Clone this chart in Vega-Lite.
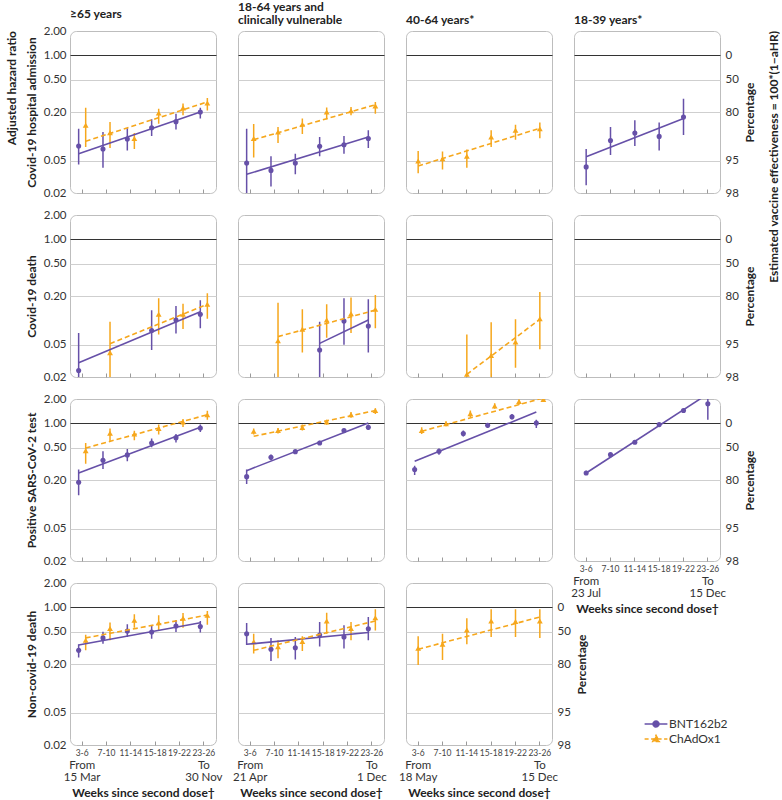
{
"$schema": "https://vega.github.io/schema/vega-lite/v6.json",
"padding": {"left": 5, "top": 0, "right": 0, "bottom": 0},
"config": {
  "font": "Lato",
  "view": {"stroke": "#bdbdbd", "cornerRadius": 6, "strokeWidth": 1},
  "axis": {"labelFont": "Lato", "titleFont": "Lato", "labelColor": "#333333", "titleColor": "#222222"},
  "title": {"font": "Lato", "fontSize": 12, "fontWeight": "bold", "color": "#222222"},
  "legend": {"labelFont": "Lato"}
},
"datasets": {
"pts": [
{"outcome":"admission","group":"65+","vaccine":"BNT162b2","weeks":"3-6","hr":0.076,"lo":0.045,"hi":0.124},
{"outcome":"admission","group":"65+","vaccine":"BNT162b2","weeks":"7-10","hr":0.070,"lo":0.041,"hi":0.113},
{"outcome":"admission","group":"65+","vaccine":"BNT162b2","weeks":"11-14","hr":0.093,"lo":0.067,"hi":0.126},
{"outcome":"admission","group":"65+","vaccine":"BNT162b2","weeks":"15-18","hr":0.128,"lo":0.101,"hi":0.163},
{"outcome":"admission","group":"65+","vaccine":"BNT162b2","weeks":"19-22","hr":0.152,"lo":0.122,"hi":0.19},
{"outcome":"admission","group":"65+","vaccine":"BNT162b2","weeks":"23-26","hr":0.20,"lo":0.166,"hi":0.225},
{"outcome":"admission","group":"65+","vaccine":"ChAdOx1","weeks":"3-6","hr":0.137,"lo":0.074,"hi":0.225},
{"outcome":"admission","group":"65+","vaccine":"ChAdOx1","weeks":"7-10","hr":0.111,"lo":0.072,"hi":0.15},
{"outcome":"admission","group":"65+","vaccine":"ChAdOx1","weeks":"11-14","hr":0.094,"lo":0.070,"hi":0.110},
{"outcome":"admission","group":"65+","vaccine":"ChAdOx1","weeks":"15-18","hr":0.194,"lo":0.143,"hi":0.22},
{"outcome":"admission","group":"65+","vaccine":"ChAdOx1","weeks":"19-22","hr":0.225,"lo":0.182,"hi":0.254},
{"outcome":"admission","group":"65+","vaccine":"ChAdOx1","weeks":"23-26","hr":0.258,"lo":0.208,"hi":0.298},
{"outcome":"admission","group":"18-64CV","vaccine":"BNT162b2","weeks":"3-6","hr":0.047,"lo":0.015,"hi":0.124},
{"outcome":"admission","group":"18-64CV","vaccine":"BNT162b2","weeks":"7-10","hr":0.038,"lo":0.024,"hi":0.057},
{"outcome":"admission","group":"18-64CV","vaccine":"BNT162b2","weeks":"11-14","hr":0.047,"lo":0.034,"hi":0.061},
{"outcome":"admission","group":"18-64CV","vaccine":"BNT162b2","weeks":"15-18","hr":0.0755,"lo":0.057,"hi":0.098},
{"outcome":"admission","group":"18-64CV","vaccine":"BNT162b2","weeks":"19-22","hr":0.079,"lo":0.061,"hi":0.101},
{"outcome":"admission","group":"18-64CV","vaccine":"BNT162b2","weeks":"23-26","hr":0.094,"lo":0.072,"hi":0.119},
{"outcome":"admission","group":"18-64CV","vaccine":"ChAdOx1","weeks":"3-6","hr":0.094,"lo":0.055,"hi":0.142},
{"outcome":"admission","group":"18-64CV","vaccine":"ChAdOx1","weeks":"7-10","hr":0.113,"lo":0.083,"hi":0.131},
{"outcome":"admission","group":"18-64CV","vaccine":"ChAdOx1","weeks":"11-14","hr":0.141,"lo":0.107,"hi":0.166},
{"outcome":"admission","group":"18-64CV","vaccine":"ChAdOx1","weeks":"15-18","hr":0.20,"lo":0.163,"hi":0.227},
{"outcome":"admission","group":"18-64CV","vaccine":"ChAdOx1","weeks":"19-22","hr":0.207,"lo":0.182,"hi":0.23},
{"outcome":"admission","group":"18-64CV","vaccine":"ChAdOx1","weeks":"23-26","hr":0.238,"lo":0.19,"hi":0.266},
{"outcome":"admission","group":"40-64","vaccine":"ChAdOx1","weeks":"3-6","hr":0.0497,"lo":0.035,"hi":0.066},
{"outcome":"admission","group":"40-64","vaccine":"ChAdOx1","weeks":"7-10","hr":0.053,"lo":0.039,"hi":0.065},
{"outcome":"admission","group":"40-64","vaccine":"ChAdOx1","weeks":"11-14","hr":0.057,"lo":0.041,"hi":0.069},
{"outcome":"admission","group":"40-64","vaccine":"ChAdOx1","weeks":"15-18","hr":0.098,"lo":0.074,"hi":0.119},
{"outcome":"admission","group":"40-64","vaccine":"ChAdOx1","weeks":"19-22","hr":0.119,"lo":0.091,"hi":0.139},
{"outcome":"admission","group":"40-64","vaccine":"ChAdOx1","weeks":"23-26","hr":0.124,"lo":0.095,"hi":0.148},
{"outcome":"admission","group":"18-39","vaccine":"BNT162b2","weeks":"3-6","hr":0.042,"lo":0.025,"hi":0.070},
{"outcome":"admission","group":"18-39","vaccine":"BNT162b2","weeks":"7-10","hr":0.089,"lo":0.059,"hi":0.131},
{"outcome":"admission","group":"18-39","vaccine":"BNT162b2","weeks":"11-14","hr":0.110,"lo":0.076,"hi":0.158},
{"outcome":"admission","group":"18-39","vaccine":"BNT162b2","weeks":"15-18","hr":0.100,"lo":0.067,"hi":0.148},
{"outcome":"admission","group":"18-39","vaccine":"BNT162b2","weeks":"19-22","hr":0.173,"lo":0.104,"hi":0.292},
{"outcome":"death","group":"65+","vaccine":"BNT162b2","weeks":"3-6","hr":0.024,"lo":0.012,"hi":0.070},
{"outcome":"death","group":"65+","vaccine":"BNT162b2","weeks":"15-18","hr":0.075,"lo":0.043,"hi":0.133},
{"outcome":"death","group":"65+","vaccine":"BNT162b2","weeks":"19-22","hr":0.101,"lo":0.069,"hi":0.151},
{"outcome":"death","group":"65+","vaccine":"BNT162b2","weeks":"23-26","hr":0.119,"lo":0.080,"hi":0.177},
{"outcome":"death","group":"65+","vaccine":"ChAdOx1","weeks":"7-10","hr":0.040,"lo":0.015,"hi":0.096},
{"outcome":"death","group":"65+","vaccine":"ChAdOx1","weeks":"15-18","hr":0.119,"lo":0.067,"hi":0.188},
{"outcome":"death","group":"65+","vaccine":"ChAdOx1","weeks":"19-22","hr":0.119,"lo":0.078,"hi":0.161},
{"outcome":"death","group":"65+","vaccine":"ChAdOx1","weeks":"23-26","hr":0.158,"lo":0.105,"hi":0.216},
{"outcome":"death","group":"18-64CV","vaccine":"BNT162b2","weeks":"15-18","hr":0.043,"lo":0.012,"hi":0.096},
{"outcome":"death","group":"18-64CV","vaccine":"BNT162b2","weeks":"19-22","hr":0.098,"lo":0.050,"hi":0.188},
{"outcome":"death","group":"18-64CV","vaccine":"BNT162b2","weeks":"23-26","hr":0.085,"lo":0.040,"hi":0.182},
{"outcome":"death","group":"18-64CV","vaccine":"ChAdOx1","weeks":"7-10","hr":0.056,"lo":0.015,"hi":0.165},
{"outcome":"death","group":"18-64CV","vaccine":"ChAdOx1","weeks":"11-14","hr":0.078,"lo":0.040,"hi":0.137},
{"outcome":"death","group":"18-64CV","vaccine":"ChAdOx1","weeks":"15-18","hr":0.101,"lo":0.061,"hi":0.158},
{"outcome":"death","group":"18-64CV","vaccine":"ChAdOx1","weeks":"19-22","hr":0.121,"lo":0.070,"hi":0.191},
{"outcome":"death","group":"18-64CV","vaccine":"ChAdOx1","weeks":"23-26","hr":0.137,"lo":0.080,"hi":0.206},
{"outcome":"death","group":"40-64","vaccine":"ChAdOx1","weeks":"11-14","hr":0.0216,"lo":0.01,"hi":0.067},
{"outcome":"death","group":"40-64","vaccine":"ChAdOx1","weeks":"15-18","hr":0.037,"lo":0.012,"hi":0.095},
{"outcome":"death","group":"40-64","vaccine":"ChAdOx1","weeks":"19-22","hr":0.054,"lo":0.026,"hi":0.103},
{"outcome":"death","group":"40-64","vaccine":"ChAdOx1","weeks":"23-26","hr":0.105,"lo":0.044,"hi":0.224},
{"outcome":"test","group":"65+","vaccine":"BNT162b2","weeks":"3-6","hr":0.188,"lo":0.130,"hi":0.269},
{"outcome":"test","group":"65+","vaccine":"BNT162b2","weeks":"7-10","hr":0.35,"lo":0.274,"hi":0.452},
{"outcome":"test","group":"65+","vaccine":"BNT162b2","weeks":"11-14","hr":0.408,"lo":0.34,"hi":0.483},
{"outcome":"test","group":"65+","vaccine":"BNT162b2","weeks":"15-18","hr":0.573,"lo":0.507,"hi":0.649},
{"outcome":"test","group":"65+","vaccine":"BNT162b2","weeks":"19-22","hr":0.667,"lo":0.58,"hi":0.74},
{"outcome":"test","group":"65+","vaccine":"BNT162b2","weeks":"23-26","hr":0.877,"lo":0.78,"hi":0.97},
{"outcome":"test","group":"65+","vaccine":"ChAdOx1","weeks":"3-6","hr":0.461,"lo":0.318,"hi":0.573},
{"outcome":"test","group":"65+","vaccine":"ChAdOx1","weeks":"7-10","hr":0.755,"lo":0.59,"hi":0.864},
{"outcome":"test","group":"65+","vaccine":"ChAdOx1","weeks":"11-14","hr":0.74,"lo":0.62,"hi":0.81},
{"outcome":"test","group":"65+","vaccine":"ChAdOx1","weeks":"15-18","hr":0.864,"lo":0.73,"hi":0.97},
{"outcome":"test","group":"65+","vaccine":"ChAdOx1","weeks":"19-22","hr":1.04,"lo":0.90,"hi":1.13},
{"outcome":"test","group":"65+","vaccine":"ChAdOx1","weeks":"23-26","hr":1.28,"lo":1.11,"hi":1.43},
{"outcome":"test","group":"18-64CV","vaccine":"BNT162b2","weeks":"3-6","hr":0.22,"lo":0.179,"hi":0.269},
{"outcome":"test","group":"18-64CV","vaccine":"BNT162b2","weeks":"7-10","hr":0.381,"lo":0.35,"hi":0.413},
{"outcome":"test","group":"18-64CV","vaccine":"BNT162b2","weeks":"11-14","hr":0.448,"lo":0.42,"hi":0.47},
{"outcome":"test","group":"18-64CV","vaccine":"BNT162b2","weeks":"15-18","hr":0.573,"lo":0.54,"hi":0.61},
{"outcome":"test","group":"18-64CV","vaccine":"BNT162b2","weeks":"19-22","hr":0.815,"lo":0.77,"hi":0.86},
{"outcome":"test","group":"18-64CV","vaccine":"BNT162b2","weeks":"23-26","hr":0.893,"lo":0.83,"hi":0.97},
{"outcome":"test","group":"18-64CV","vaccine":"ChAdOx1","weeks":"3-6","hr":0.80,"lo":0.73,"hi":0.864},
{"outcome":"test","group":"18-64CV","vaccine":"ChAdOx1","weeks":"7-10","hr":0.815,"lo":0.75,"hi":0.88},
{"outcome":"test","group":"18-64CV","vaccine":"ChAdOx1","weeks":"11-14","hr":0.893,"lo":0.815,"hi":0.97},
{"outcome":"test","group":"18-64CV","vaccine":"ChAdOx1","weeks":"15-18","hr":1.04,"lo":0.96,"hi":1.11},
{"outcome":"test","group":"18-64CV","vaccine":"ChAdOx1","weeks":"19-22","hr":1.28,"lo":1.17,"hi":1.38},
{"outcome":"test","group":"18-64CV","vaccine":"ChAdOx1","weeks":"23-26","hr":1.44,"lo":1.31,"hi":1.54},
{"outcome":"test","group":"40-64","vaccine":"BNT162b2","weeks":"3-6","hr":0.269,"lo":0.23,"hi":0.30},
{"outcome":"test","group":"40-64","vaccine":"BNT162b2","weeks":"7-10","hr":0.452,"lo":0.41,"hi":0.49},
{"outcome":"test","group":"40-64","vaccine":"BNT162b2","weeks":"11-14","hr":0.748,"lo":0.69,"hi":0.815},
{"outcome":"test","group":"40-64","vaccine":"BNT162b2","weeks":"15-18","hr":0.947,"lo":0.877,"hi":1.01},
{"outcome":"test","group":"40-64","vaccine":"BNT162b2","weeks":"19-22","hr":1.21,"lo":1.12,"hi":1.31},
{"outcome":"test","group":"40-64","vaccine":"BNT162b2","weeks":"23-26","hr":1.01,"lo":0.877,"hi":1.11},
{"outcome":"test","group":"40-64","vaccine":"ChAdOx1","weeks":"3-6","hr":0.815,"lo":0.74,"hi":0.893},
{"outcome":"test","group":"40-64","vaccine":"ChAdOx1","weeks":"7-10","hr":0.99,"lo":0.92,"hi":1.06},
{"outcome":"test","group":"40-64","vaccine":"ChAdOx1","weeks":"11-14","hr":1.32,"lo":1.2,"hi":1.44},
{"outcome":"test","group":"40-64","vaccine":"ChAdOx1","weeks":"15-18","hr":1.64,"lo":1.52,"hi":1.77},
{"outcome":"test","group":"40-64","vaccine":"ChAdOx1","weeks":"19-22","hr":1.86,"lo":1.7,"hi":1.97},
{"outcome":"test","group":"40-64","vaccine":"ChAdOx1","weeks":"23-26","hr":1.98,"lo":1.85,"hi":2.1},
{"outcome":"test","group":"18-39","vaccine":"BNT162b2","weeks":"3-6","hr":0.244,"lo":0.23,"hi":0.26},
{"outcome":"test","group":"18-39","vaccine":"BNT162b2","weeks":"7-10","hr":0.411,"lo":0.39,"hi":0.43},
{"outcome":"test","group":"18-39","vaccine":"BNT162b2","weeks":"11-14","hr":0.584,"lo":0.555,"hi":0.615},
{"outcome":"test","group":"18-39","vaccine":"BNT162b2","weeks":"15-18","hr":0.966,"lo":0.92,"hi":1.01},
{"outcome":"test","group":"18-39","vaccine":"BNT162b2","weeks":"19-22","hr":1.44,"lo":1.37,"hi":1.51},
{"outcome":"test","group":"18-39","vaccine":"BNT162b2","weeks":"23-26","hr":1.75,"lo":1.11,"hi":2.06},
{"outcome":"noncovid","group":"65+","vaccine":"BNT162b2","weeks":"3-6","hr":0.295,"lo":0.24,"hi":0.35},
{"outcome":"noncovid","group":"65+","vaccine":"BNT162b2","weeks":"7-10","hr":0.42,"lo":0.355,"hi":0.50},
{"outcome":"noncovid","group":"65+","vaccine":"BNT162b2","weeks":"11-14","hr":0.51,"lo":0.43,"hi":0.62},
{"outcome":"noncovid","group":"65+","vaccine":"BNT162b2","weeks":"15-18","hr":0.497,"lo":0.41,"hi":0.59},
{"outcome":"noncovid","group":"65+","vaccine":"BNT162b2","weeks":"19-22","hr":0.59,"lo":0.497,"hi":0.70},
{"outcome":"noncovid","group":"65+","vaccine":"BNT162b2","weeks":"23-26","hr":0.58,"lo":0.49,"hi":0.68},
{"outcome":"noncovid","group":"65+","vaccine":"ChAdOx1","weeks":"3-6","hr":0.392,"lo":0.295,"hi":0.46},
{"outcome":"noncovid","group":"65+","vaccine":"ChAdOx1","weeks":"7-10","hr":0.55,"lo":0.392,"hi":0.65},
{"outcome":"noncovid","group":"65+","vaccine":"ChAdOx1","weeks":"11-14","hr":0.693,"lo":0.56,"hi":0.82},
{"outcome":"noncovid","group":"65+","vaccine":"ChAdOx1","weeks":"15-18","hr":0.647,"lo":0.52,"hi":0.80},
{"outcome":"noncovid","group":"65+","vaccine":"ChAdOx1","weeks":"19-22","hr":0.733,"lo":0.56,"hi":0.85},
{"outcome":"noncovid","group":"65+","vaccine":"ChAdOx1","weeks":"23-26","hr":0.80,"lo":0.61,"hi":0.90},
{"outcome":"noncovid","group":"18-64CV","vaccine":"BNT162b2","weeks":"3-6","hr":0.473,"lo":0.343,"hi":0.64},
{"outcome":"noncovid","group":"18-64CV","vaccine":"BNT162b2","weeks":"7-10","hr":0.304,"lo":0.218,"hi":0.42},
{"outcome":"noncovid","group":"18-64CV","vaccine":"BNT162b2","weeks":"11-14","hr":0.318,"lo":0.228,"hi":0.43},
{"outcome":"noncovid","group":"18-64CV","vaccine":"BNT162b2","weeks":"15-18","hr":0.456,"lo":0.33,"hi":0.66},
{"outcome":"noncovid","group":"18-64CV","vaccine":"BNT162b2","weeks":"19-22","hr":0.43,"lo":0.31,"hi":0.60},
{"outcome":"noncovid","group":"18-64CV","vaccine":"BNT162b2","weeks":"23-26","hr":0.545,"lo":0.392,"hi":0.76},
{"outcome":"noncovid","group":"18-64CV","vaccine":"ChAdOx1","weeks":"3-6","hr":0.377,"lo":0.27,"hi":0.473},
{"outcome":"noncovid","group":"18-64CV","vaccine":"ChAdOx1","weeks":"7-10","hr":0.326,"lo":0.235,"hi":0.392},
{"outcome":"noncovid","group":"18-64CV","vaccine":"ChAdOx1","weeks":"11-14","hr":0.38,"lo":0.29,"hi":0.44},
{"outcome":"noncovid","group":"18-64CV","vaccine":"ChAdOx1","weeks":"15-18","hr":0.68,"lo":0.473,"hi":0.86},
{"outcome":"noncovid","group":"18-64CV","vaccine":"ChAdOx1","weeks":"19-22","hr":0.55,"lo":0.392,"hi":0.66},
{"outcome":"noncovid","group":"18-64CV","vaccine":"ChAdOx1","weeks":"23-26","hr":0.746,"lo":0.52,"hi":0.95},
{"outcome":"noncovid","group":"40-64","vaccine":"ChAdOx1","weeks":"3-6","hr":0.313,"lo":0.195,"hi":0.44},
{"outcome":"noncovid","group":"40-64","vaccine":"ChAdOx1","weeks":"7-10","hr":0.35,"lo":0.224,"hi":0.473},
{"outcome":"noncovid","group":"40-64","vaccine":"ChAdOx1","weeks":"11-14","hr":0.526,"lo":0.35,"hi":0.733},
{"outcome":"noncovid","group":"40-64","vaccine":"ChAdOx1","weeks":"15-18","hr":0.68,"lo":0.43,"hi":0.95},
{"outcome":"noncovid","group":"40-64","vaccine":"ChAdOx1","weeks":"19-22","hr":0.67,"lo":0.43,"hi":0.95},
{"outcome":"noncovid","group":"40-64","vaccine":"ChAdOx1","weeks":"23-26","hr":0.68,"lo":0.42,"hi":0.95}
],
"fit": [
{"outcome":"admission","group":"65+","vaccine":"BNT162b2","weeks":"3-6","fit":0.061},
{"outcome":"admission","group":"65+","vaccine":"BNT162b2","weeks":"23-26","fit":0.20},
{"outcome":"admission","group":"65+","vaccine":"ChAdOx1","weeks":"3-6","fit":0.087},
{"outcome":"admission","group":"65+","vaccine":"ChAdOx1","weeks":"23-26","fit":0.266},
{"outcome":"admission","group":"18-64CV","vaccine":"BNT162b2","weeks":"3-6","fit":0.034},
{"outcome":"admission","group":"18-64CV","vaccine":"BNT162b2","weeks":"23-26","fit":0.098},
{"outcome":"admission","group":"18-64CV","vaccine":"ChAdOx1","weeks":"3-6","fit":0.091},
{"outcome":"admission","group":"18-64CV","vaccine":"ChAdOx1","weeks":"23-26","fit":0.246},
{"outcome":"admission","group":"40-64","vaccine":"ChAdOx1","weeks":"3-6","fit":0.043},
{"outcome":"admission","group":"40-64","vaccine":"ChAdOx1","weeks":"23-26","fit":0.126},
{"outcome":"admission","group":"18-39","vaccine":"BNT162b2","weeks":"3-6","fit":0.056},
{"outcome":"admission","group":"18-39","vaccine":"BNT162b2","weeks":"19-22","fit":0.166},
{"outcome":"death","group":"65+","vaccine":"BNT162b2","weeks":"3-6","fit":0.030},
{"outcome":"death","group":"65+","vaccine":"BNT162b2","weeks":"23-26","fit":0.128},
{"outcome":"death","group":"65+","vaccine":"ChAdOx1","weeks":"7-10","fit":0.0515},
{"outcome":"death","group":"65+","vaccine":"ChAdOx1","weeks":"23-26","fit":0.158},
{"outcome":"death","group":"18-64CV","vaccine":"BNT162b2","weeks":"15-18","fit":0.052},
{"outcome":"death","group":"18-64CV","vaccine":"BNT162b2","weeks":"23-26","fit":0.101},
{"outcome":"death","group":"18-64CV","vaccine":"ChAdOx1","weeks":"7-10","fit":0.063},
{"outcome":"death","group":"18-64CV","vaccine":"ChAdOx1","weeks":"23-26","fit":0.134},
{"outcome":"death","group":"40-64","vaccine":"ChAdOx1","weeks":"11-14","fit":0.0216},
{"outcome":"death","group":"40-64","vaccine":"ChAdOx1","weeks":"23-26","fit":0.103},
{"outcome":"test","group":"65+","vaccine":"BNT162b2","weeks":"3-6","fit":0.244},
{"outcome":"test","group":"65+","vaccine":"BNT162b2","weeks":"23-26","fit":0.893},
{"outcome":"test","group":"65+","vaccine":"ChAdOx1","weeks":"3-6","fit":0.497},
{"outcome":"test","group":"65+","vaccine":"ChAdOx1","weeks":"23-26","fit":1.28},
{"outcome":"test","group":"18-64CV","vaccine":"BNT162b2","weeks":"3-6","fit":0.261},
{"outcome":"test","group":"18-64CV","vaccine":"BNT162b2","weeks":"23-26","fit":1.01},
{"outcome":"test","group":"18-64CV","vaccine":"ChAdOx1","weeks":"3-6","fit":0.693},
{"outcome":"test","group":"18-64CV","vaccine":"ChAdOx1","weeks":"23-26","fit":1.44},
{"outcome":"test","group":"40-64","vaccine":"BNT162b2","weeks":"3-6","fit":0.34},
{"outcome":"test","group":"40-64","vaccine":"BNT162b2","weeks":"23-26","fit":1.38},
{"outcome":"test","group":"40-64","vaccine":"ChAdOx1","weeks":"3-6","fit":0.80},
{"outcome":"test","group":"40-64","vaccine":"ChAdOx1","weeks":"23-26","fit":2.06},
{"outcome":"test","group":"18-39","vaccine":"BNT162b2","weeks":"3-6","fit":0.244},
{"outcome":"test","group":"18-39","vaccine":"BNT162b2","weeks":"23-26","fit":2.31},
{"outcome":"noncovid","group":"65+","vaccine":"BNT162b2","weeks":"3-6","fit":0.343},
{"outcome":"noncovid","group":"65+","vaccine":"BNT162b2","weeks":"23-26","fit":0.647},
{"outcome":"noncovid","group":"65+","vaccine":"ChAdOx1","weeks":"3-6","fit":0.42},
{"outcome":"noncovid","group":"65+","vaccine":"ChAdOx1","weeks":"23-26","fit":0.805},
{"outcome":"noncovid","group":"18-64CV","vaccine":"BNT162b2","weeks":"3-6","fit":0.35},
{"outcome":"noncovid","group":"18-64CV","vaccine":"BNT162b2","weeks":"23-26","fit":0.49},
{"outcome":"noncovid","group":"18-64CV","vaccine":"ChAdOx1","weeks":"3-6","fit":0.295},
{"outcome":"noncovid","group":"18-64CV","vaccine":"ChAdOx1","weeks":"23-26","fit":0.68},
{"outcome":"noncovid","group":"40-64","vaccine":"ChAdOx1","weeks":"3-6","fit":0.304},
{"outcome":"noncovid","group":"40-64","vaccine":"ChAdOx1","weeks":"23-26","fit":0.76}
]
},
"title": {"text": "Adjusted hazard ratio", "orient": "left", "anchor": "end", "frame": "group", "offset": 6},
"bounds": "flush",
"resolve": {"scale": {"xOffset": "independent"}},
"vconcat": [{
"title": {"text": "Estimated vaccine effectiveness = 100*(1−aHR)", "orient": "right", "anchor": "start", "frame": "group", "angle": 270, "align": "right", "offset": 1},
"bounds": "flush",
"columns": 4,
"spacing": {"row": 22, "column": 22},
"resolve": {"scale": {"xOffset": "independent"}},
"concat": [
 {"width":146,"height":162,"title":{"text":"≥65 years","anchor":"start","frame":"group","offset":4},"resolve":{"axis":{"x":"independent","y":"independent"}},"layer":[
  {"data":{"name":"pts"},"transform":[{"filter":"datum.outcome==='admission' && datum.group==='65+'"}],"mark":{"type":"rule","strokeWidth":1.5,"clip":true},"encoding":{"x":{"field":"weeks","type":"nominal","scale":{"type":"band","domain":["3-6","7-10","11-14","15-18","19-22","23-26"],"paddingInner":0,"paddingOuter":0},"axis":{"orient":"bottom","domain":false,"ticks":true,"tickSize":4,"tickColor":"#9a9a9a","offset":-4,"labels":false,"grid":false,"title":null}},"xOffset":{"field":"vaccine","type":"nominal","scale":{"paddingInner":0,"paddingOuter":0.73}},"y":{"field":"lo","type":"quantitative","scale":{"type":"log","domain":[0.02,2],"nice":false},"axis":{"orient":"left","values":[0.02,0.05,0.2,0.5,1,2],"format":".2f","labelFontSize":11.5,"labelPadding":4,"ticks":false,"domain":false,"grid":true,"gridColor":{"condition":{"test":"datum.value===1","value":"#333333"},"value":"#cfcfcf"},"gridOpacity":{"condition":{"test":"datum.value===2 || datum.value===0.02","value":0},"value":1},"title":"Covid-19 hospital admission","titleFontSize":12,"titleFontWeight":"bold","titlePadding":5}},"y2":{"field":"hi"},"color":{"field":"vaccine","type":"nominal","scale":{"domain":["ChAdOx1","BNT162b2"],"range":["#f6a71c","#6650a8"]},"legend":null}}},
  {"data":{"name":"pts"},"transform":[{"filter":"datum.outcome==='admission' && datum.group==='65+' && datum.vaccine==='BNT162b2'"}],"mark":{"type":"point","shape":"circle","filled":true,"size":26,"opacity":1,"clip":true},"encoding":{"x":{"field":"weeks","type":"nominal","axis":null},"xOffset":{"field":"vaccine","type":"nominal"},"y":{"field":"hr","type":"quantitative","axis":null},"color":{"field":"vaccine","type":"nominal","legend":null}}},
  {"data":{"name":"pts"},"transform":[{"filter":"datum.outcome==='admission' && datum.group==='65+' && datum.vaccine==='ChAdOx1'"}],"mark":{"type":"point","shape":"triangle-up","filled":true,"size":34,"opacity":1,"clip":true},"encoding":{"x":{"field":"weeks","type":"nominal","axis":null},"xOffset":{"field":"vaccine","type":"nominal"},"y":{"field":"hr","type":"quantitative","axis":null},"color":{"field":"vaccine","type":"nominal","legend":null}}},
  {"data":{"name":"fit"},"transform":[{"filter":"datum.outcome==='admission' && datum.group==='65+' && datum.vaccine==='BNT162b2'"}],"mark":{"type":"line","strokeWidth":1.6,"clip":true},"encoding":{"x":{"field":"weeks","type":"nominal","axis":null},"xOffset":{"field":"vaccine","type":"nominal"},"y":{"field":"fit","type":"quantitative","axis":null},"color":{"field":"vaccine","type":"nominal","legend":null}}},
  {"data":{"name":"fit"},"transform":[{"filter":"datum.outcome==='admission' && datum.group==='65+' && datum.vaccine==='ChAdOx1'"}],"mark":{"type":"line","strokeWidth":1.6,"strokeDash":[5,3],"clip":true},"encoding":{"x":{"field":"weeks","type":"nominal","axis":null},"xOffset":{"field":"vaccine","type":"nominal"},"y":{"field":"fit","type":"quantitative","axis":null},"color":{"field":"vaccine","type":"nominal","legend":null}}}
 ]},
 {"width":146,"height":162,"title":{"text":["18-64 years and","clinically vulnerable"],"anchor":"start","frame":"group","offset":4,"lineHeight":13.5},"resolve":{"axis":{"x":"independent","y":"independent"}},"layer":[
  {"data":{"name":"pts"},"transform":[{"filter":"datum.outcome==='admission' && datum.group==='18-64CV'"}],"mark":{"type":"rule","strokeWidth":1.5,"clip":true},"encoding":{"x":{"field":"weeks","type":"nominal","scale":{"type":"band","domain":["3-6","7-10","11-14","15-18","19-22","23-26"],"paddingInner":0,"paddingOuter":0},"axis":{"orient":"bottom","domain":false,"ticks":true,"tickSize":4,"tickColor":"#9a9a9a","offset":-4,"labels":false,"grid":false,"title":null}},"xOffset":{"field":"vaccine","type":"nominal","scale":{"paddingInner":0,"paddingOuter":0.73}},"y":{"field":"lo","type":"quantitative","scale":{"type":"log","domain":[0.02,2],"nice":false},"axis":{"values":[0.05,0.2,0.5,1],"labels":false,"ticks":false,"domain":false,"grid":true,"gridColor":{"condition":{"test":"datum.value===1","value":"#333333"},"value":"#cfcfcf"},"title":null}},"y2":{"field":"hi"},"color":{"field":"vaccine","type":"nominal","legend":null}}},
  {"data":{"name":"pts"},"transform":[{"filter":"datum.outcome==='admission' && datum.group==='18-64CV' && datum.vaccine==='BNT162b2'"}],"mark":{"type":"point","shape":"circle","filled":true,"size":26,"opacity":1,"clip":true},"encoding":{"x":{"field":"weeks","type":"nominal","axis":null},"xOffset":{"field":"vaccine","type":"nominal"},"y":{"field":"hr","type":"quantitative","axis":null},"color":{"field":"vaccine","type":"nominal","legend":null}}},
  {"data":{"name":"pts"},"transform":[{"filter":"datum.outcome==='admission' && datum.group==='18-64CV' && datum.vaccine==='ChAdOx1'"}],"mark":{"type":"point","shape":"triangle-up","filled":true,"size":34,"opacity":1,"clip":true},"encoding":{"x":{"field":"weeks","type":"nominal","axis":null},"xOffset":{"field":"vaccine","type":"nominal"},"y":{"field":"hr","type":"quantitative","axis":null},"color":{"field":"vaccine","type":"nominal","legend":null}}},
  {"data":{"name":"fit"},"transform":[{"filter":"datum.outcome==='admission' && datum.group==='18-64CV' && datum.vaccine==='BNT162b2'"}],"mark":{"type":"line","strokeWidth":1.6,"clip":true},"encoding":{"x":{"field":"weeks","type":"nominal","axis":null},"xOffset":{"field":"vaccine","type":"nominal"},"y":{"field":"fit","type":"quantitative","axis":null},"color":{"field":"vaccine","type":"nominal","legend":null}}},
  {"data":{"name":"fit"},"transform":[{"filter":"datum.outcome==='admission' && datum.group==='18-64CV' && datum.vaccine==='ChAdOx1'"}],"mark":{"type":"line","strokeWidth":1.6,"strokeDash":[5,3],"clip":true},"encoding":{"x":{"field":"weeks","type":"nominal","axis":null},"xOffset":{"field":"vaccine","type":"nominal"},"y":{"field":"fit","type":"quantitative","axis":null},"color":{"field":"vaccine","type":"nominal","legend":null}}}
 ]},
 {"width":146,"height":162,"title":{"text":"40-64 years*","anchor":"start","frame":"group","offset":4},"resolve":{"axis":{"x":"independent","y":"independent"}},"layer":[
  {"data":{"name":"pts"},"transform":[{"filter":"datum.outcome==='admission' && datum.group==='40-64'"}],"mark":{"type":"rule","strokeWidth":1.5,"clip":true},"encoding":{"x":{"field":"weeks","type":"nominal","scale":{"type":"band","domain":["3-6","7-10","11-14","15-18","19-22","23-26"],"paddingInner":0,"paddingOuter":0},"axis":{"orient":"bottom","domain":false,"ticks":true,"tickSize":4,"tickColor":"#9a9a9a","offset":-4,"labels":false,"grid":false,"title":null}},"xOffset":{"field":"vaccine","type":"nominal","scale":{"paddingInner":0,"paddingOuter":0.73}},"y":{"field":"lo","type":"quantitative","scale":{"type":"log","domain":[0.02,2],"nice":false},"axis":{"values":[0.05,0.2,0.5,1],"labels":false,"ticks":false,"domain":false,"grid":true,"gridColor":{"condition":{"test":"datum.value===1","value":"#333333"},"value":"#cfcfcf"},"title":null}},"y2":{"field":"hi"},"color":{"field":"vaccine","type":"nominal","legend":null}}},
  {"data":{"name":"pts"},"transform":[{"filter":"datum.outcome==='admission' && datum.group==='40-64' && datum.vaccine==='ChAdOx1'"}],"mark":{"type":"point","shape":"triangle-up","filled":true,"size":34,"opacity":1,"clip":true},"encoding":{"x":{"field":"weeks","type":"nominal","axis":null},"xOffset":{"field":"vaccine","type":"nominal"},"y":{"field":"hr","type":"quantitative","axis":null},"color":{"field":"vaccine","type":"nominal","legend":null}}},
  {"data":{"name":"fit"},"transform":[{"filter":"datum.outcome==='admission' && datum.group==='40-64' && datum.vaccine==='ChAdOx1'"}],"mark":{"type":"line","strokeWidth":1.6,"strokeDash":[5,3],"clip":true},"encoding":{"x":{"field":"weeks","type":"nominal","axis":null},"xOffset":{"field":"vaccine","type":"nominal"},"y":{"field":"fit","type":"quantitative","axis":null},"color":{"field":"vaccine","type":"nominal","legend":null}}}
 ]},
 {"width":146,"height":162,"title":{"text":"18-39 years*","anchor":"start","frame":"group","offset":4},"resolve":{"axis":{"x":"independent","y":"independent"}},"layer":[
  {"data":{"name":"pts"},"transform":[{"filter":"datum.outcome==='admission' && datum.group==='18-39'"}],"mark":{"type":"rule","strokeWidth":1.5,"clip":true},"encoding":{"x":{"field":"weeks","type":"nominal","scale":{"type":"band","domain":["3-6","7-10","11-14","15-18","19-22","23-26"],"paddingInner":0,"paddingOuter":0},"axis":{"orient":"bottom","domain":false,"ticks":true,"tickSize":4,"tickColor":"#9a9a9a","offset":-4,"labels":false,"grid":false,"title":null}},"xOffset":{"field":"vaccine","type":"nominal","scale":{"paddingInner":0,"paddingOuter":0.73}},"y":{"field":"lo","type":"quantitative","scale":{"type":"log","domain":[0.02,2],"nice":false},"axis":{"values":[0.05,0.2,0.5,1],"labels":false,"ticks":false,"domain":false,"grid":true,"gridColor":{"condition":{"test":"datum.value===1","value":"#333333"},"value":"#cfcfcf"},"title":null}},"y2":{"field":"hi"},"color":{"field":"vaccine","type":"nominal","legend":null}}},
  {"data":{"name":"pts"},"transform":[{"filter":"datum.outcome==='admission' && datum.group==='18-39' && datum.vaccine==='BNT162b2'"}],"mark":{"type":"point","shape":"circle","filled":true,"size":26,"opacity":1,"clip":true},"encoding":{"x":{"field":"weeks","type":"nominal","axis":null},"xOffset":{"field":"vaccine","type":"nominal"},"y":{"field":"hr","type":"quantitative","axis":{"orient":"right","values":[0.02,0.05,0.2,0.5,1],"labelExpr":"format(100*(1-datum.value),'d')","labelFontSize":11.5,"labelPadding":5,"ticks":false,"domain":false,"grid":false,"title":"Percentage","titleFontSize":12,"titleFontWeight":"bold","titleAngle":270,"titleBaseline":"top","titlePadding":6}},"color":{"field":"vaccine","type":"nominal","legend":null}}},
  {"data":{"name":"fit"},"transform":[{"filter":"datum.outcome==='admission' && datum.group==='18-39' && datum.vaccine==='BNT162b2'"}],"mark":{"type":"line","strokeWidth":1.6,"clip":true},"encoding":{"x":{"field":"weeks","type":"nominal","axis":null},"xOffset":{"field":"vaccine","type":"nominal"},"y":{"field":"fit","type":"quantitative","axis":null},"color":{"field":"vaccine","type":"nominal","legend":null}}}
 ]},
 {"width":146,"height":162,"resolve":{"axis":{"x":"independent","y":"independent"}},"layer":[
  {"data":{"name":"pts"},"transform":[{"filter":"datum.outcome==='death' && datum.group==='65+'"}],"mark":{"type":"rule","strokeWidth":1.5,"clip":true},"encoding":{"x":{"field":"weeks","type":"nominal","scale":{"type":"band","domain":["3-6","7-10","11-14","15-18","19-22","23-26"],"paddingInner":0,"paddingOuter":0},"axis":{"orient":"bottom","domain":false,"ticks":true,"tickSize":4,"tickColor":"#9a9a9a","offset":-4,"labels":false,"grid":false,"title":null}},"xOffset":{"field":"vaccine","type":"nominal","scale":{"paddingInner":0,"paddingOuter":0.73}},"y":{"field":"lo","type":"quantitative","scale":{"type":"log","domain":[0.02,2],"nice":false},"axis":{"orient":"left","values":[0.02,0.05,0.2,0.5,1,2],"format":".2f","labelFontSize":11.5,"labelPadding":4,"ticks":false,"domain":false,"grid":true,"gridColor":{"condition":{"test":"datum.value===1","value":"#333333"},"value":"#cfcfcf"},"gridOpacity":{"condition":{"test":"datum.value===2 || datum.value===0.02","value":0},"value":1},"title":"Covid-19 death","titleFontSize":12,"titleFontWeight":"bold","titlePadding":5}},"y2":{"field":"hi"},"color":{"field":"vaccine","type":"nominal","legend":null}}},
  {"data":{"name":"pts"},"transform":[{"filter":"datum.outcome==='death' && datum.group==='65+' && datum.vaccine==='BNT162b2'"}],"mark":{"type":"point","shape":"circle","filled":true,"size":26,"opacity":1,"clip":true},"encoding":{"x":{"field":"weeks","type":"nominal","axis":null},"xOffset":{"field":"vaccine","type":"nominal"},"y":{"field":"hr","type":"quantitative","axis":null},"color":{"field":"vaccine","type":"nominal","legend":null}}},
  {"data":{"name":"pts"},"transform":[{"filter":"datum.outcome==='death' && datum.group==='65+' && datum.vaccine==='ChAdOx1'"}],"mark":{"type":"point","shape":"triangle-up","filled":true,"size":34,"opacity":1,"clip":true},"encoding":{"x":{"field":"weeks","type":"nominal","axis":null},"xOffset":{"field":"vaccine","type":"nominal"},"y":{"field":"hr","type":"quantitative","axis":null},"color":{"field":"vaccine","type":"nominal","legend":null}}},
  {"data":{"name":"fit"},"transform":[{"filter":"datum.outcome==='death' && datum.group==='65+' && datum.vaccine==='BNT162b2'"}],"mark":{"type":"line","strokeWidth":1.6,"clip":true},"encoding":{"x":{"field":"weeks","type":"nominal","axis":null},"xOffset":{"field":"vaccine","type":"nominal"},"y":{"field":"fit","type":"quantitative","axis":null},"color":{"field":"vaccine","type":"nominal","legend":null}}},
  {"data":{"name":"fit"},"transform":[{"filter":"datum.outcome==='death' && datum.group==='65+' && datum.vaccine==='ChAdOx1'"}],"mark":{"type":"line","strokeWidth":1.6,"strokeDash":[5,3],"clip":true},"encoding":{"x":{"field":"weeks","type":"nominal","axis":null},"xOffset":{"field":"vaccine","type":"nominal"},"y":{"field":"fit","type":"quantitative","axis":null},"color":{"field":"vaccine","type":"nominal","legend":null}}}
 ]},
 {"width":146,"height":162,"resolve":{"axis":{"x":"independent","y":"independent"}},"layer":[
  {"data":{"name":"pts"},"transform":[{"filter":"datum.outcome==='death' && datum.group==='18-64CV'"}],"mark":{"type":"rule","strokeWidth":1.5,"clip":true},"encoding":{"x":{"field":"weeks","type":"nominal","scale":{"type":"band","domain":["3-6","7-10","11-14","15-18","19-22","23-26"],"paddingInner":0,"paddingOuter":0},"axis":{"orient":"bottom","domain":false,"ticks":true,"tickSize":4,"tickColor":"#9a9a9a","offset":-4,"labels":false,"grid":false,"title":null}},"xOffset":{"field":"vaccine","type":"nominal","scale":{"paddingInner":0,"paddingOuter":0.73}},"y":{"field":"lo","type":"quantitative","scale":{"type":"log","domain":[0.02,2],"nice":false},"axis":{"values":[0.05,0.2,0.5,1],"labels":false,"ticks":false,"domain":false,"grid":true,"gridColor":{"condition":{"test":"datum.value===1","value":"#333333"},"value":"#cfcfcf"},"title":null}},"y2":{"field":"hi"},"color":{"field":"vaccine","type":"nominal","legend":null}}},
  {"data":{"name":"pts"},"transform":[{"filter":"datum.outcome==='death' && datum.group==='18-64CV' && datum.vaccine==='BNT162b2'"}],"mark":{"type":"point","shape":"circle","filled":true,"size":26,"opacity":1,"clip":true},"encoding":{"x":{"field":"weeks","type":"nominal","axis":null},"xOffset":{"field":"vaccine","type":"nominal"},"y":{"field":"hr","type":"quantitative","axis":null},"color":{"field":"vaccine","type":"nominal","legend":null}}},
  {"data":{"name":"pts"},"transform":[{"filter":"datum.outcome==='death' && datum.group==='18-64CV' && datum.vaccine==='ChAdOx1'"}],"mark":{"type":"point","shape":"triangle-up","filled":true,"size":34,"opacity":1,"clip":true},"encoding":{"x":{"field":"weeks","type":"nominal","axis":null},"xOffset":{"field":"vaccine","type":"nominal"},"y":{"field":"hr","type":"quantitative","axis":null},"color":{"field":"vaccine","type":"nominal","legend":null}}},
  {"data":{"name":"fit"},"transform":[{"filter":"datum.outcome==='death' && datum.group==='18-64CV' && datum.vaccine==='BNT162b2'"}],"mark":{"type":"line","strokeWidth":1.6,"clip":true},"encoding":{"x":{"field":"weeks","type":"nominal","axis":null},"xOffset":{"field":"vaccine","type":"nominal"},"y":{"field":"fit","type":"quantitative","axis":null},"color":{"field":"vaccine","type":"nominal","legend":null}}},
  {"data":{"name":"fit"},"transform":[{"filter":"datum.outcome==='death' && datum.group==='18-64CV' && datum.vaccine==='ChAdOx1'"}],"mark":{"type":"line","strokeWidth":1.6,"strokeDash":[5,3],"clip":true},"encoding":{"x":{"field":"weeks","type":"nominal","axis":null},"xOffset":{"field":"vaccine","type":"nominal"},"y":{"field":"fit","type":"quantitative","axis":null},"color":{"field":"vaccine","type":"nominal","legend":null}}}
 ]},
 {"width":146,"height":162,"resolve":{"axis":{"x":"independent","y":"independent"}},"layer":[
  {"data":{"name":"pts"},"transform":[{"filter":"datum.outcome==='death' && datum.group==='40-64'"}],"mark":{"type":"rule","strokeWidth":1.5,"clip":true},"encoding":{"x":{"field":"weeks","type":"nominal","scale":{"type":"band","domain":["3-6","7-10","11-14","15-18","19-22","23-26"],"paddingInner":0,"paddingOuter":0},"axis":{"orient":"bottom","domain":false,"ticks":true,"tickSize":4,"tickColor":"#9a9a9a","offset":-4,"labels":false,"grid":false,"title":null}},"xOffset":{"field":"vaccine","type":"nominal","scale":{"paddingInner":0,"paddingOuter":0.73}},"y":{"field":"lo","type":"quantitative","scale":{"type":"log","domain":[0.02,2],"nice":false},"axis":{"values":[0.05,0.2,0.5,1],"labels":false,"ticks":false,"domain":false,"grid":true,"gridColor":{"condition":{"test":"datum.value===1","value":"#333333"},"value":"#cfcfcf"},"title":null}},"y2":{"field":"hi"},"color":{"field":"vaccine","type":"nominal","legend":null}}},
  {"data":{"name":"pts"},"transform":[{"filter":"datum.outcome==='death' && datum.group==='40-64' && datum.vaccine==='ChAdOx1'"}],"mark":{"type":"point","shape":"triangle-up","filled":true,"size":34,"opacity":1,"clip":true},"encoding":{"x":{"field":"weeks","type":"nominal","axis":null},"xOffset":{"field":"vaccine","type":"nominal"},"y":{"field":"hr","type":"quantitative","axis":null},"color":{"field":"vaccine","type":"nominal","legend":null}}},
  {"data":{"name":"fit"},"transform":[{"filter":"datum.outcome==='death' && datum.group==='40-64' && datum.vaccine==='ChAdOx1'"}],"mark":{"type":"line","strokeWidth":1.6,"strokeDash":[5,3],"clip":true},"encoding":{"x":{"field":"weeks","type":"nominal","axis":null},"xOffset":{"field":"vaccine","type":"nominal"},"y":{"field":"fit","type":"quantitative","axis":null},"color":{"field":"vaccine","type":"nominal","legend":null}}}
 ]},
 {"width":146,"height":162,"resolve":{"axis":{"x":"independent","y":"independent"}},"layer":[
  {"data":{"name":"pts"},"transform":[{"filter":"datum.outcome==='death' && datum.group==='18-39'"}],"mark":{"type":"rule","strokeWidth":1.5,"clip":true},"encoding":{"x":{"field":"weeks","type":"nominal","scale":{"type":"band","domain":["3-6","7-10","11-14","15-18","19-22","23-26"],"paddingInner":0,"paddingOuter":0},"axis":{"orient":"bottom","domain":false,"ticks":true,"tickSize":4,"tickColor":"#9a9a9a","offset":-4,"labels":false,"grid":false,"title":null}},"xOffset":{"field":"vaccine","type":"nominal","scale":{"paddingInner":0,"paddingOuter":0.73}},"y":{"field":"lo","type":"quantitative","scale":{"type":"log","domain":[0.02,2],"nice":false},"axis":{"values":[0.05,0.2,0.5,1],"labels":false,"ticks":false,"domain":false,"grid":true,"gridColor":{"condition":{"test":"datum.value===1","value":"#333333"},"value":"#cfcfcf"},"title":null}},"y2":{"field":"hi"},"color":{"field":"vaccine","type":"nominal","legend":null}}},
  {"data":{"name":"pts"},"transform":[{"filter":"datum.outcome==='death' && datum.group==='18-39' && datum.vaccine==='BNT162b2'"}],"mark":{"type":"point","shape":"circle","filled":true,"size":26,"opacity":1,"clip":true},"encoding":{"x":{"field":"weeks","type":"nominal","axis":null},"xOffset":{"field":"vaccine","type":"nominal"},"y":{"field":"hr","type":"quantitative","axis":{"orient":"right","values":[0.02,0.05,0.2,0.5,1],"labelExpr":"format(100*(1-datum.value),'d')","labelFontSize":11.5,"labelPadding":5,"ticks":false,"domain":false,"grid":false,"title":"Percentage","titleFontSize":12,"titleFontWeight":"bold","titleAngle":270,"titleBaseline":"top","titlePadding":6}},"color":{"field":"vaccine","type":"nominal","legend":null}}}
 ]},
 {"width":146,"height":162,"resolve":{"axis":{"x":"independent","y":"independent"}},"layer":[
  {"data":{"name":"pts"},"transform":[{"filter":"datum.outcome==='test' && datum.group==='65+'"}],"mark":{"type":"rule","strokeWidth":1.5,"clip":true},"encoding":{"x":{"field":"weeks","type":"nominal","scale":{"type":"band","domain":["3-6","7-10","11-14","15-18","19-22","23-26"],"paddingInner":0,"paddingOuter":0},"axis":{"orient":"bottom","domain":false,"ticks":true,"tickSize":4,"tickColor":"#9a9a9a","offset":-4,"labels":false,"grid":false,"title":null}},"xOffset":{"field":"vaccine","type":"nominal","scale":{"paddingInner":0,"paddingOuter":0.73}},"y":{"field":"lo","type":"quantitative","scale":{"type":"log","domain":[0.02,2],"nice":false},"axis":{"orient":"left","values":[0.02,0.05,0.2,0.5,1,2],"format":".2f","labelFontSize":11.5,"labelPadding":4,"ticks":false,"domain":false,"grid":true,"gridColor":{"condition":{"test":"datum.value===1","value":"#333333"},"value":"#cfcfcf"},"gridOpacity":{"condition":{"test":"datum.value===2 || datum.value===0.02","value":0},"value":1},"title":"Positive SARS-CoV-2 test","titleFontSize":12,"titleFontWeight":"bold","titlePadding":5}},"y2":{"field":"hi"},"color":{"field":"vaccine","type":"nominal","legend":null}}},
  {"data":{"name":"pts"},"transform":[{"filter":"datum.outcome==='test' && datum.group==='65+' && datum.vaccine==='BNT162b2'"}],"mark":{"type":"point","shape":"circle","filled":true,"size":26,"opacity":1,"clip":true},"encoding":{"x":{"field":"weeks","type":"nominal","axis":null},"xOffset":{"field":"vaccine","type":"nominal"},"y":{"field":"hr","type":"quantitative","axis":null},"color":{"field":"vaccine","type":"nominal","legend":null}}},
  {"data":{"name":"pts"},"transform":[{"filter":"datum.outcome==='test' && datum.group==='65+' && datum.vaccine==='ChAdOx1'"}],"mark":{"type":"point","shape":"triangle-up","filled":true,"size":34,"opacity":1,"clip":true},"encoding":{"x":{"field":"weeks","type":"nominal","axis":null},"xOffset":{"field":"vaccine","type":"nominal"},"y":{"field":"hr","type":"quantitative","axis":null},"color":{"field":"vaccine","type":"nominal","legend":null}}},
  {"data":{"name":"fit"},"transform":[{"filter":"datum.outcome==='test' && datum.group==='65+' && datum.vaccine==='BNT162b2'"}],"mark":{"type":"line","strokeWidth":1.6,"clip":true},"encoding":{"x":{"field":"weeks","type":"nominal","axis":null},"xOffset":{"field":"vaccine","type":"nominal"},"y":{"field":"fit","type":"quantitative","axis":null},"color":{"field":"vaccine","type":"nominal","legend":null}}},
  {"data":{"name":"fit"},"transform":[{"filter":"datum.outcome==='test' && datum.group==='65+' && datum.vaccine==='ChAdOx1'"}],"mark":{"type":"line","strokeWidth":1.6,"strokeDash":[5,3],"clip":true},"encoding":{"x":{"field":"weeks","type":"nominal","axis":null},"xOffset":{"field":"vaccine","type":"nominal"},"y":{"field":"fit","type":"quantitative","axis":null},"color":{"field":"vaccine","type":"nominal","legend":null}}}
 ]},
 {"width":146,"height":162,"resolve":{"axis":{"x":"independent","y":"independent"}},"layer":[
  {"data":{"name":"pts"},"transform":[{"filter":"datum.outcome==='test' && datum.group==='18-64CV'"}],"mark":{"type":"rule","strokeWidth":1.5,"clip":true},"encoding":{"x":{"field":"weeks","type":"nominal","scale":{"type":"band","domain":["3-6","7-10","11-14","15-18","19-22","23-26"],"paddingInner":0,"paddingOuter":0},"axis":{"orient":"bottom","domain":false,"ticks":true,"tickSize":4,"tickColor":"#9a9a9a","offset":-4,"labels":false,"grid":false,"title":null}},"xOffset":{"field":"vaccine","type":"nominal","scale":{"paddingInner":0,"paddingOuter":0.73}},"y":{"field":"lo","type":"quantitative","scale":{"type":"log","domain":[0.02,2],"nice":false},"axis":{"values":[0.05,0.2,0.5,1],"labels":false,"ticks":false,"domain":false,"grid":true,"gridColor":{"condition":{"test":"datum.value===1","value":"#333333"},"value":"#cfcfcf"},"title":null}},"y2":{"field":"hi"},"color":{"field":"vaccine","type":"nominal","legend":null}}},
  {"data":{"name":"pts"},"transform":[{"filter":"datum.outcome==='test' && datum.group==='18-64CV' && datum.vaccine==='BNT162b2'"}],"mark":{"type":"point","shape":"circle","filled":true,"size":26,"opacity":1,"clip":true},"encoding":{"x":{"field":"weeks","type":"nominal","axis":null},"xOffset":{"field":"vaccine","type":"nominal"},"y":{"field":"hr","type":"quantitative","axis":null},"color":{"field":"vaccine","type":"nominal","legend":null}}},
  {"data":{"name":"pts"},"transform":[{"filter":"datum.outcome==='test' && datum.group==='18-64CV' && datum.vaccine==='ChAdOx1'"}],"mark":{"type":"point","shape":"triangle-up","filled":true,"size":34,"opacity":1,"clip":true},"encoding":{"x":{"field":"weeks","type":"nominal","axis":null},"xOffset":{"field":"vaccine","type":"nominal"},"y":{"field":"hr","type":"quantitative","axis":null},"color":{"field":"vaccine","type":"nominal","legend":null}}},
  {"data":{"name":"fit"},"transform":[{"filter":"datum.outcome==='test' && datum.group==='18-64CV' && datum.vaccine==='BNT162b2'"}],"mark":{"type":"line","strokeWidth":1.6,"clip":true},"encoding":{"x":{"field":"weeks","type":"nominal","axis":null},"xOffset":{"field":"vaccine","type":"nominal"},"y":{"field":"fit","type":"quantitative","axis":null},"color":{"field":"vaccine","type":"nominal","legend":null}}},
  {"data":{"name":"fit"},"transform":[{"filter":"datum.outcome==='test' && datum.group==='18-64CV' && datum.vaccine==='ChAdOx1'"}],"mark":{"type":"line","strokeWidth":1.6,"strokeDash":[5,3],"clip":true},"encoding":{"x":{"field":"weeks","type":"nominal","axis":null},"xOffset":{"field":"vaccine","type":"nominal"},"y":{"field":"fit","type":"quantitative","axis":null},"color":{"field":"vaccine","type":"nominal","legend":null}}}
 ]},
 {"width":146,"height":162,"resolve":{"axis":{"x":"independent","y":"independent"}},"layer":[
  {"data":{"name":"pts"},"transform":[{"filter":"datum.outcome==='test' && datum.group==='40-64'"}],"mark":{"type":"rule","strokeWidth":1.5,"clip":true},"encoding":{"x":{"field":"weeks","type":"nominal","scale":{"type":"band","domain":["3-6","7-10","11-14","15-18","19-22","23-26"],"paddingInner":0,"paddingOuter":0},"axis":{"orient":"bottom","domain":false,"ticks":true,"tickSize":4,"tickColor":"#9a9a9a","offset":-4,"labels":false,"grid":false,"title":null}},"xOffset":{"field":"vaccine","type":"nominal","scale":{"paddingInner":0,"paddingOuter":0.73}},"y":{"field":"lo","type":"quantitative","scale":{"type":"log","domain":[0.02,2],"nice":false},"axis":{"values":[0.05,0.2,0.5,1],"labels":false,"ticks":false,"domain":false,"grid":true,"gridColor":{"condition":{"test":"datum.value===1","value":"#333333"},"value":"#cfcfcf"},"title":null}},"y2":{"field":"hi"},"color":{"field":"vaccine","type":"nominal","legend":null}}},
  {"data":{"name":"pts"},"transform":[{"filter":"datum.outcome==='test' && datum.group==='40-64' && datum.vaccine==='BNT162b2'"}],"mark":{"type":"point","shape":"circle","filled":true,"size":26,"opacity":1,"clip":true},"encoding":{"x":{"field":"weeks","type":"nominal","axis":null},"xOffset":{"field":"vaccine","type":"nominal"},"y":{"field":"hr","type":"quantitative","axis":null},"color":{"field":"vaccine","type":"nominal","legend":null}}},
  {"data":{"name":"pts"},"transform":[{"filter":"datum.outcome==='test' && datum.group==='40-64' && datum.vaccine==='ChAdOx1'"}],"mark":{"type":"point","shape":"triangle-up","filled":true,"size":34,"opacity":1,"clip":true},"encoding":{"x":{"field":"weeks","type":"nominal","axis":null},"xOffset":{"field":"vaccine","type":"nominal"},"y":{"field":"hr","type":"quantitative","axis":null},"color":{"field":"vaccine","type":"nominal","legend":null}}},
  {"data":{"name":"fit"},"transform":[{"filter":"datum.outcome==='test' && datum.group==='40-64' && datum.vaccine==='BNT162b2'"}],"mark":{"type":"line","strokeWidth":1.6,"clip":true},"encoding":{"x":{"field":"weeks","type":"nominal","axis":null},"xOffset":{"field":"vaccine","type":"nominal"},"y":{"field":"fit","type":"quantitative","axis":null},"color":{"field":"vaccine","type":"nominal","legend":null}}},
  {"data":{"name":"fit"},"transform":[{"filter":"datum.outcome==='test' && datum.group==='40-64' && datum.vaccine==='ChAdOx1'"}],"mark":{"type":"line","strokeWidth":1.6,"strokeDash":[5,3],"clip":true},"encoding":{"x":{"field":"weeks","type":"nominal","axis":null},"xOffset":{"field":"vaccine","type":"nominal"},"y":{"field":"fit","type":"quantitative","axis":null},"color":{"field":"vaccine","type":"nominal","legend":null}}}
 ]},
 {"width":146,"height":162,"resolve":{"axis":{"x":"independent","y":"independent"}},"layer":[
  {"data":{"name":"pts"},"transform":[{"filter":"datum.outcome==='test' && datum.group==='18-39'"}],"mark":{"type":"rule","strokeWidth":1.5,"clip":true},"encoding":{"x":{"field":"weeks","type":"nominal","scale":{"type":"band","domain":["3-6","7-10","11-14","15-18","19-22","23-26"],"paddingInner":0,"paddingOuter":0},"axis":{"orient":"bottom","domain":false,"ticks":true,"tickSize":4,"tickColor":"#9a9a9a","offset":-4,"labels":true,"labelFontSize":8.5,"labelPadding":3,"labelColor":"#444444","labelAngle":0,"labelOverlap":false,"grid":false,"title":null}},"xOffset":{"field":"vaccine","type":"nominal","scale":{"paddingInner":0,"paddingOuter":0.73}},"y":{"field":"lo","type":"quantitative","scale":{"type":"log","domain":[0.02,2],"nice":false},"axis":{"values":[0.05,0.2,0.5,1],"labels":false,"ticks":false,"domain":false,"grid":true,"gridColor":{"condition":{"test":"datum.value===1","value":"#333333"},"value":"#cfcfcf"},"title":null}},"y2":{"field":"hi"},"color":{"field":"vaccine","type":"nominal","legend":null}}},
  {"data":{"name":"pts"},"transform":[{"filter":"datum.outcome==='test' && datum.group==='18-39' && datum.vaccine==='BNT162b2'"}],"mark":{"type":"point","shape":"circle","filled":true,"size":26,"opacity":1,"clip":true},"encoding":{"x":{"field":"weeks","type":"nominal","axis":{"orient":"bottom","domain":false,"ticks":false,"grid":false,"offset":14,"labelPadding":0,"labelAngle":0,"labelExpr":"datum.value==='3-6' ? ['From','23 Jul'] : datum.value==='23-26' ? ['To','15 Dec'] : ''","labelFontSize":11.5,"labelLineHeight":12,"labelOverlap":false,"labelColor":"#333333","title":"Weeks since second dose†","titleFontSize":12,"titleFontWeight":"bold","titlePadding":5}},"xOffset":{"field":"vaccine","type":"nominal"},"y":{"field":"hr","type":"quantitative","axis":{"orient":"right","values":[0.02,0.05,0.2,0.5,1],"labelExpr":"format(100*(1-datum.value),'d')","labelFontSize":11.5,"labelPadding":5,"ticks":false,"domain":false,"grid":false,"title":"Percentage","titleFontSize":12,"titleFontWeight":"bold","titleAngle":270,"titleBaseline":"top","titlePadding":6}},"color":{"field":"vaccine","type":"nominal","legend":null}}},
  {"data":{"name":"fit"},"transform":[{"filter":"datum.outcome==='test' && datum.group==='18-39' && datum.vaccine==='BNT162b2'"}],"mark":{"type":"line","strokeWidth":1.6,"clip":true},"encoding":{"x":{"field":"weeks","type":"nominal","axis":null},"xOffset":{"field":"vaccine","type":"nominal"},"y":{"field":"fit","type":"quantitative","axis":null},"color":{"field":"vaccine","type":"nominal","legend":null}}}
 ]},
 {"width":146,"height":162,"resolve":{"axis":{"x":"independent","y":"independent"}},"layer":[
  {"data":{"name":"pts"},"transform":[{"filter":"datum.outcome==='noncovid' && datum.group==='65+'"}],"mark":{"type":"rule","strokeWidth":1.5,"clip":true},"encoding":{"x":{"field":"weeks","type":"nominal","scale":{"type":"band","domain":["3-6","7-10","11-14","15-18","19-22","23-26"],"paddingInner":0,"paddingOuter":0},"axis":{"orient":"bottom","domain":false,"ticks":true,"tickSize":4,"tickColor":"#9a9a9a","offset":-4,"labels":true,"labelFontSize":8.5,"labelPadding":3,"labelColor":"#444444","labelAngle":0,"labelOverlap":false,"grid":false,"title":null}},"xOffset":{"field":"vaccine","type":"nominal","scale":{"paddingInner":0,"paddingOuter":0.73}},"y":{"field":"lo","type":"quantitative","scale":{"type":"log","domain":[0.02,2],"nice":false},"axis":{"orient":"left","values":[0.02,0.05,0.2,0.5,1,2],"format":".2f","labelFontSize":11.5,"labelPadding":4,"ticks":false,"domain":false,"grid":true,"gridColor":{"condition":{"test":"datum.value===1","value":"#333333"},"value":"#cfcfcf"},"gridOpacity":{"condition":{"test":"datum.value===2 || datum.value===0.02","value":0},"value":1},"title":"Non-covid-19 death","titleFontSize":12,"titleFontWeight":"bold","titlePadding":5}},"y2":{"field":"hi"},"color":{"field":"vaccine","type":"nominal","legend":null}}},
  {"data":{"name":"pts"},"transform":[{"filter":"datum.outcome==='noncovid' && datum.group==='65+' && datum.vaccine==='BNT162b2'"}],"mark":{"type":"point","shape":"circle","filled":true,"size":26,"opacity":1,"clip":true},"encoding":{"x":{"field":"weeks","type":"nominal","axis":{"orient":"bottom","domain":false,"ticks":false,"grid":false,"offset":14,"labelPadding":0,"labelAngle":0,"labelExpr":"datum.value==='3-6' ? ['From','15 Mar'] : datum.value==='23-26' ? ['To','30 Nov'] : ''","labelFontSize":11.5,"labelLineHeight":12,"labelOverlap":false,"labelColor":"#333333","title":"Weeks since second dose†","titleFontSize":12,"titleFontWeight":"bold","titlePadding":5}},"xOffset":{"field":"vaccine","type":"nominal"},"y":{"field":"hr","type":"quantitative","axis":null},"color":{"field":"vaccine","type":"nominal","legend":null}}},
  {"data":{"name":"pts"},"transform":[{"filter":"datum.outcome==='noncovid' && datum.group==='65+' && datum.vaccine==='ChAdOx1'"}],"mark":{"type":"point","shape":"triangle-up","filled":true,"size":34,"opacity":1,"clip":true},"encoding":{"x":{"field":"weeks","type":"nominal","axis":null},"xOffset":{"field":"vaccine","type":"nominal"},"y":{"field":"hr","type":"quantitative","axis":null},"color":{"field":"vaccine","type":"nominal","legend":null}}},
  {"data":{"name":"fit"},"transform":[{"filter":"datum.outcome==='noncovid' && datum.group==='65+' && datum.vaccine==='BNT162b2'"}],"mark":{"type":"line","strokeWidth":1.6,"clip":true},"encoding":{"x":{"field":"weeks","type":"nominal","axis":null},"xOffset":{"field":"vaccine","type":"nominal"},"y":{"field":"fit","type":"quantitative","axis":null},"color":{"field":"vaccine","type":"nominal","legend":null}}},
  {"data":{"name":"fit"},"transform":[{"filter":"datum.outcome==='noncovid' && datum.group==='65+' && datum.vaccine==='ChAdOx1'"}],"mark":{"type":"line","strokeWidth":1.6,"strokeDash":[5,3],"clip":true},"encoding":{"x":{"field":"weeks","type":"nominal","axis":null},"xOffset":{"field":"vaccine","type":"nominal"},"y":{"field":"fit","type":"quantitative","axis":null},"color":{"field":"vaccine","type":"nominal","legend":null}}}
 ]},
 {"width":146,"height":162,"resolve":{"axis":{"x":"independent","y":"independent"}},"layer":[
  {"data":{"name":"pts"},"transform":[{"filter":"datum.outcome==='noncovid' && datum.group==='18-64CV'"}],"mark":{"type":"rule","strokeWidth":1.5,"clip":true},"encoding":{"x":{"field":"weeks","type":"nominal","scale":{"type":"band","domain":["3-6","7-10","11-14","15-18","19-22","23-26"],"paddingInner":0,"paddingOuter":0},"axis":{"orient":"bottom","domain":false,"ticks":true,"tickSize":4,"tickColor":"#9a9a9a","offset":-4,"labels":true,"labelFontSize":8.5,"labelPadding":3,"labelColor":"#444444","labelAngle":0,"labelOverlap":false,"grid":false,"title":null}},"xOffset":{"field":"vaccine","type":"nominal","scale":{"paddingInner":0,"paddingOuter":0.73}},"y":{"field":"lo","type":"quantitative","scale":{"type":"log","domain":[0.02,2],"nice":false},"axis":{"values":[0.05,0.2,0.5,1],"labels":false,"ticks":false,"domain":false,"grid":true,"gridColor":{"condition":{"test":"datum.value===1","value":"#333333"},"value":"#cfcfcf"},"title":null}},"y2":{"field":"hi"},"color":{"field":"vaccine","type":"nominal","legend":null}}},
  {"data":{"name":"pts"},"transform":[{"filter":"datum.outcome==='noncovid' && datum.group==='18-64CV' && datum.vaccine==='BNT162b2'"}],"mark":{"type":"point","shape":"circle","filled":true,"size":26,"opacity":1,"clip":true},"encoding":{"x":{"field":"weeks","type":"nominal","axis":{"orient":"bottom","domain":false,"ticks":false,"grid":false,"offset":14,"labelPadding":0,"labelAngle":0,"labelExpr":"datum.value==='3-6' ? ['From','21 Apr'] : datum.value==='23-26' ? ['To','1 Dec'] : ''","labelFontSize":11.5,"labelLineHeight":12,"labelOverlap":false,"labelColor":"#333333","title":"Weeks since second dose†","titleFontSize":12,"titleFontWeight":"bold","titlePadding":5}},"xOffset":{"field":"vaccine","type":"nominal"},"y":{"field":"hr","type":"quantitative","axis":null},"color":{"field":"vaccine","type":"nominal","legend":null}}},
  {"data":{"name":"pts"},"transform":[{"filter":"datum.outcome==='noncovid' && datum.group==='18-64CV' && datum.vaccine==='ChAdOx1'"}],"mark":{"type":"point","shape":"triangle-up","filled":true,"size":34,"opacity":1,"clip":true},"encoding":{"x":{"field":"weeks","type":"nominal","axis":null},"xOffset":{"field":"vaccine","type":"nominal"},"y":{"field":"hr","type":"quantitative","axis":null},"color":{"field":"vaccine","type":"nominal","legend":null}}},
  {"data":{"name":"fit"},"transform":[{"filter":"datum.outcome==='noncovid' && datum.group==='18-64CV' && datum.vaccine==='BNT162b2'"}],"mark":{"type":"line","strokeWidth":1.6,"clip":true},"encoding":{"x":{"field":"weeks","type":"nominal","axis":null},"xOffset":{"field":"vaccine","type":"nominal"},"y":{"field":"fit","type":"quantitative","axis":null},"color":{"field":"vaccine","type":"nominal","legend":null}}},
  {"data":{"name":"fit"},"transform":[{"filter":"datum.outcome==='noncovid' && datum.group==='18-64CV' && datum.vaccine==='ChAdOx1'"}],"mark":{"type":"line","strokeWidth":1.6,"strokeDash":[5,3],"clip":true},"encoding":{"x":{"field":"weeks","type":"nominal","axis":null},"xOffset":{"field":"vaccine","type":"nominal"},"y":{"field":"fit","type":"quantitative","axis":null},"color":{"field":"vaccine","type":"nominal","legend":null}}}
 ]},
 {"width":146,"height":162,"resolve":{"axis":{"x":"independent","y":"independent"}},"layer":[
  {"data":{"name":"pts"},"transform":[{"filter":"datum.outcome==='noncovid' && datum.group==='40-64'"}],"mark":{"type":"rule","strokeWidth":1.5,"clip":true},"encoding":{"x":{"field":"weeks","type":"nominal","scale":{"type":"band","domain":["3-6","7-10","11-14","15-18","19-22","23-26"],"paddingInner":0,"paddingOuter":0},"axis":{"orient":"bottom","domain":false,"ticks":true,"tickSize":4,"tickColor":"#9a9a9a","offset":-4,"labels":true,"labelFontSize":8.5,"labelPadding":3,"labelColor":"#444444","labelAngle":0,"labelOverlap":false,"grid":false,"title":null}},"xOffset":{"field":"vaccine","type":"nominal","scale":{"paddingInner":0,"paddingOuter":0.73}},"y":{"field":"lo","type":"quantitative","scale":{"type":"log","domain":[0.02,2],"nice":false},"axis":{"values":[0.05,0.2,0.5,1],"labels":false,"ticks":false,"domain":false,"grid":true,"gridColor":{"condition":{"test":"datum.value===1","value":"#333333"},"value":"#cfcfcf"},"title":null}},"y2":{"field":"hi"},"color":{"field":"vaccine","type":"nominal","legend":null}}},
  {"data":{"name":"pts"},"transform":[{"filter":"datum.outcome==='noncovid' && datum.group==='40-64' && datum.vaccine==='ChAdOx1'"}],"mark":{"type":"point","shape":"triangle-up","filled":true,"size":34,"opacity":1,"clip":true},"encoding":{"x":{"field":"weeks","type":"nominal","axis":{"orient":"bottom","domain":false,"ticks":false,"grid":false,"offset":14,"labelPadding":0,"labelAngle":0,"labelExpr":"datum.value==='3-6' ? ['From','18 May'] : datum.value==='23-26' ? ['To','15 Dec'] : ''","labelFontSize":11.5,"labelLineHeight":12,"labelOverlap":false,"labelColor":"#333333","title":"Weeks since second dose†","titleFontSize":12,"titleFontWeight":"bold","titlePadding":5}},"xOffset":{"field":"vaccine","type":"nominal"},"y":{"field":"hr","type":"quantitative","axis":{"orient":"right","values":[0.02,0.05,0.2,0.5,1],"labelExpr":"format(100*(1-datum.value),'d')","labelFontSize":11.5,"labelPadding":5,"ticks":false,"domain":false,"grid":false,"title":"Percentage","titleFontSize":12,"titleFontWeight":"bold","titleAngle":270,"titleBaseline":"top","titlePadding":6}},"color":{"field":"vaccine","type":"nominal","legend":null}}},
  {"data":{"name":"fit"},"transform":[{"filter":"datum.outcome==='noncovid' && datum.group==='40-64' && datum.vaccine==='ChAdOx1'"}],"mark":{"type":"line","strokeWidth":1.6,"strokeDash":[5,3],"clip":true},"encoding":{"x":{"field":"weeks","type":"nominal","axis":null},"xOffset":{"field":"vaccine","type":"nominal"},"y":{"field":"fit","type":"quantitative","axis":null},"color":{"field":"vaccine","type":"nominal","legend":null}}},
  {"data":{"name":"pts"},"transform":[{"filter":"datum.outcome==='noncovid'"}],"mark":{"type":"point","filled":true,"size":144,"opacity":0},"encoding":{
    "shape":{"field":"vaccine","type":"nominal","scale":{"domain":["BNT162b2","ChAdOx1"],"range":["M-1.9,0H1.9M0.5,0L0.433,0.25L0.25,0.433L0,0.5L-0.25,0.433L-0.433,0.25L-0.5,0L-0.433,-0.25L-0.25,-0.433L0,-0.5L0.25,-0.433L0.433,-0.25Z","M-1.9,0H1.9M0,-0.6L0.55,0.4L-0.55,0.4Z"]},"legend":{"title":null,"orient":"none","legendX":579,"legendY":686,"labelFontSize":12,"labelColor":"#333333","labelOffset":6,"rowPadding":2,"symbolStrokeWidth":1.5,"symbolOpacity":1,"symbolSize":144,"padding":0}},
    "fill":{"field":"vaccine","type":"nominal","scale":{"domain":["BNT162b2","ChAdOx1"],"range":["#6650a8","#f6a71c"]},"legend":{"title":null,"orient":"none","legendX":579,"legendY":686,"labelFontSize":12,"labelColor":"#333333","labelOffset":6,"rowPadding":2,"symbolStrokeWidth":1.5,"symbolOpacity":1,"symbolSize":144,"padding":0}},
    "stroke":{"field":"vaccine","type":"nominal","scale":{"domain":["BNT162b2","ChAdOx1"],"range":["#6650a8","#f6a71c"]},"legend":{"title":null,"orient":"none","legendX":579,"legendY":686,"labelFontSize":12,"labelColor":"#333333","labelOffset":6,"rowPadding":2,"symbolStrokeWidth":1.5,"symbolOpacity":1,"symbolSize":144,"padding":0}},
    "strokeDash":{"field":"vaccine","type":"nominal","scale":{"domain":["BNT162b2","ChAdOx1"],"range":[[1,0],[4,2.5]]},"legend":{"title":null,"orient":"none","legendX":579,"legendY":686,"labelFontSize":12,"labelColor":"#333333","labelOffset":6,"rowPadding":2,"symbolStrokeWidth":1.5,"symbolOpacity":1,"symbolSize":144,"padding":0}}
  }}
 ]}
]
}]
}
